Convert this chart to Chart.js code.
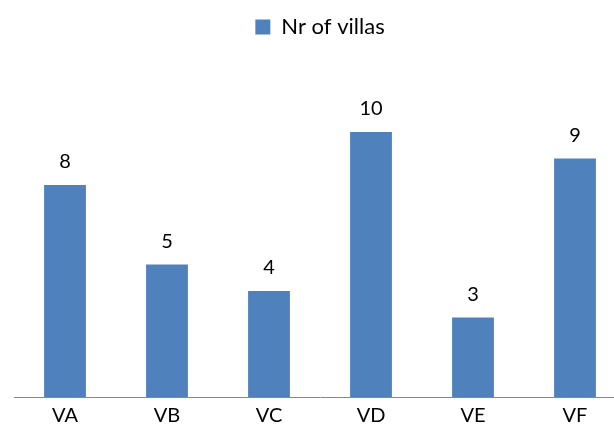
<!DOCTYPE html>
<html>
<head>
<meta charset="utf-8">
<script src="https://cdn.jsdelivr.net/npm/chart.js@4/dist/chart.umd.min.js"></script>
<style>
  html, body { margin: 0; padding: 0; background: #fff; overflow: hidden; }
  #wrap { width: 640px; height: 439px; }
</style>
</head>
<body>
<div id="wrap"><canvas id="myChart" width="640" height="439"></canvas></div>
<script>
const categories = ['VA', 'VB', 'VC', 'VD', 'VE', 'VF'];
const villaCounts = [8, 5, 4, 10, 3, 9];
const seriesLabel = 'Nr of villas';

const fontFamily = 'Lato, "Open Sans", "Liberation Sans", sans-serif';

// draw the value above every bar
const valueLabels = {
  id: 'valueLabels',
  afterDatasetsDraw(chart) {
    const ctx = chart.ctx;
    const meta = chart.getDatasetMeta(0);
    ctx.save();
    ctx.font = '20px ' + fontFamily;
    ctx.fillStyle = '#000';
    ctx.textAlign = 'center';
    ctx.textBaseline = 'bottom';
    meta.data.forEach((bar, i) => {
      ctx.fillText(String(villaCounts[i]), bar.x, bar.y - 13);
    });
    ctx.restore();
  }
};

// extra gap between legend and plot
const legendGap = {
  id: 'legendGap',
  beforeInit(chart) {
    const origFit = chart.legend.fit;
    chart.legend.fit = function () {
      origFit.bind(chart.legend)();
      this.height += 31;
    };
  }
};

const ctx = document.getElementById('myChart').getContext('2d');
new Chart(ctx, {
  type: 'bar',
  data: {
    labels: categories,
    datasets: [{
      label: seriesLabel,
      data: villaCounts,
      backgroundColor: '#4F81BD',
      borderWidth: 0,
      barPercentage: 0.41,
      categoryPercentage: 1.0
    }]
  },
  options: {
    responsive: false,
    animation: false,
    layout: { padding: { left: 14, right: 14, top: 0, bottom: 4 } },
    plugins: {
      legend: {
        display: true,
        position: 'top',
        labels: {
          boxWidth: 15,
          boxHeight: 15,
          color: '#000',
          font: { family: fontFamily, size: 22 },
          padding: 16
        }
      },
      title: { display: false },
      tooltip: { enabled: false }
    },
    scales: {
      y: {
        display: false,
        min: 0,
        max: 12
      },
      x: {
        grid: { display: false, drawTicks: false },
        border: { display: true, color: '#888888', width: 1 },
        ticks: {
          color: '#000',
          font: { family: fontFamily, size: 20 },
          padding: 7
        }
      }
    }
  },
  plugins: [valueLabels, legendGap]
});
</script>
</body>
</html>
